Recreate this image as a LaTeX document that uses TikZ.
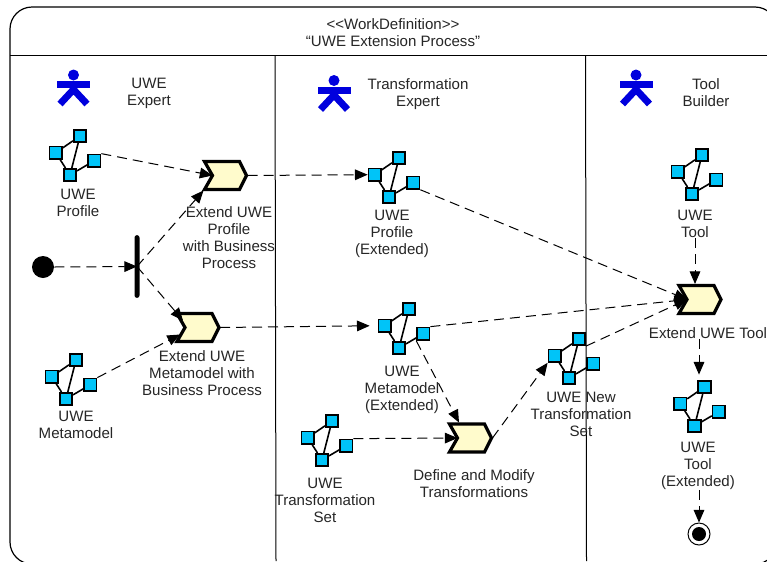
\documentclass[tikz,border=0pt]{standalone}
\usepackage{fontspec}
\setmainfont{Liberation Sans}
\usetikzlibrary{arrows.meta}
\definecolor{actorblue}{HTML}{0000DD}
\definecolor{wpblue}{HTML}{00C4F8}
\definecolor{taskyellow}{HTML}{FFFBCC}
\tikzset{
  txt/.style={font=\fontsize{11.3}{12.75}\selectfont,align=center,inner sep=0pt,text=black!85},
  flow/.style={draw=black,line width=0.75pt,dash pattern=on 7.5pt off 4.5pt,-{Triangle[length=9.5pt,width=8pt]}},
  wpbox/.style={draw=black,line width=1.2pt,fill=wpblue,minimum size=9.4pt,inner sep=0pt},
  startnode/.style={circle,fill=black,minimum size=16.5pt,inner sep=0pt},
  endnode/.style={circle,draw=black,line width=0.75pt,fill=white,minimum size=16.5pt,inner sep=0pt},
  enddot/.style={circle,fill=black,minimum size=10.5pt,inner sep=0pt},
  forkbar/.style={rectangle,fill=black,rounded corners=1.8pt,minimum width=3.75pt,minimum height=47pt,inner sep=0pt},
  wprod/.pic={
    \node[wpbox] (-n) at (5,-19) {};
    \node[wpbox] (-w) at (-19.3,-2.3) {};
    \node[wpbox] (-s) at (-5,20) {};
    \node[wpbox] (-e) at (19.3,5.7) {};
    \draw[line width=1.2pt] (-w) -- (-n) (-n) -- (-s) (-w) -- (-s) (-s) -- (-e);
    \node[wpbox] at (-n) {};
    \node[wpbox] at (-w) {};
    \node[wpbox] at (-s) {};
    \node[wpbox] at (-e) {};
  },
  wtask/.pic={
    \draw[line width=2.4pt,line join=miter,fill=taskyellow] (-21,-14) -- (14,-14) -- (21,0) -- (14,14) -- (-21,14) -- (-13,0) -- cycle;
    \coordinate (-tip) at (22,0);
    \coordinate (-notch) at (-13,0);
    \coordinate (-nw) at (-22,15);
    \coordinate (-a) at (-15,-7);
    \coordinate (-b) at (-18,7);
    \coordinate (-c) at (-11.5,-15.5);
    \coordinate (-top) at (-5,-15.5);
  },
  actor/.pic={
    \fill[actorblue] (0,-9.5) circle[radius=5.5];
    \fill[actorblue] (-16.5,-3.5) rectangle (16.5,3.5);
    \draw[actorblue,line width=5.2pt] (0,-3) -- (0,6) (-13.5,19.5) -- (0,5) -- (13.5,19.5);
  }
}
\begin{document}
\begin{tikzpicture}[x=0.75pt,y=-0.75pt]
\useasboundingbox (0,0) rectangle (767,561);
\clip (0,0) rectangle (767,561);
\fill[white] (0,0) rectangle (767,561);
\draw[line width=0.9pt,rounded corners=16.5pt] (10,7) rectangle (777,564);
\draw[line width=0.9pt] (10,55.5) -- (767,55.5);
\draw[line width=0.75pt] (275,55.5) -- (276,561);
\draw[line width=0.75pt] (585.5,55.5) -- (586.5,561);
\node[txt] (title) at (393,32.5) {<{}<WorkDefinition>{}>\\“UWE Extension Process”};
\pic at (73.5,84.5) {actor};
\pic at (334,90) {actor};
\pic at (636,84.5) {actor};
\node[txt] (expert) at (149,93) {UWE\\Expert};
\node[txt] (transexpert) at (418,94) {Transformation\\Expert};
\node[txt] (builder) at (706,93) {Tool\\Builder};
\pic (profile) at (75,155) {wprod};
\pic (metamodel) at (71,379) {wprod};
\pic (extprofile) at (394,177) {wprod};
\pic (extmetamodel) at (404,328) {wprod};
\pic (transset) at (327,440) {wprod};
\pic (newset) at (574,358) {wprod};
\pic (tool) at (697,174) {wprod};
\pic (exttool) at (699.5,406) {wprod};
\pic (taskprofile) at (225.5,175.5) {wtask};
\pic (taskmodel) at (198,327.5) {wtask};
\pic (taskdefine) at (470.5,438) {wtask};
\pic (tasktool) at (700,299.5) {wtask};
\node[txt] (lprofile) at (78,203) {UWE\\Profile};
\node[txt] (lmetamodel) at (76,424.5) {UWE\\Metamodel};
\node[txt] (lextprofile) at (392,234) {UWE\\Profile\\(Extended)};
\node[txt] (lextmetamodel) at (402,390) {UWE\\Metamodel\\(Extended)};
\node[txt] (ltransset) at (325,500) {UWE\\Transformation\\Set};
\node[txt] (lnewset) at (581,414) {UWE New\\Transformation\\Set};
\node[txt] (ltool) at (695,224) {UWE\\Tool};
\node[txt] (lexttool) at (698,466) {UWE\\Tool\\(Extended)};
\node[txt] (ltaskprofile) at (229,237.5) {Extend UWE\\Profile\\with Business\\Process};
\node[txt] (ltaskmodel) at (202,373) {Extend UWE\\Metamodel with\\Business Process};
\node[txt] (ltaskdefine) at (474,484) {Define and Modify\\Transformations};
\node[txt] (ltasktool) at (708,333) {Extend UWE Tool};
\node[startnode] (start) at (43,267) {};
\node[forkbar] (fork) at (137,266.5) {};
\node[endnode] (finish) at (699,534) {};
\node[enddot] (finishdot) at (699,534) {};
\draw[flow] (start.east) -- (fork.center);
\draw[flow] (fork.center) -- (taskprofile-nw);
\draw[flow] (fork.center) -- (taskmodel-a);
\draw[flow] (profile-e.north east) -- (taskprofile-notch);
\draw[flow] (metamodel-e.north east) -- (taskmodel-b);
\draw[flow] (taskprofile-tip) -- (extprofile-w.west);
\draw[flow,shorten >=6pt] (taskmodel-tip) -- (extmetamodel-w.west);
\draw[flow] (extprofile-e.south east) -- (tasktool-notch);
\draw[flow] (extmetamodel-e.north east) -- (tasktool-notch);
\draw[flow] (newset-n.south east) -- (tasktool-notch);
\draw[flow] (extmetamodel-e.south west) -- (taskdefine-c);
\draw[flow] (transset-e.north east) -- (taskdefine-notch);
\draw[flow] (taskdefine-tip) -- (newset-w.south west);
\draw[flow] (ltool.south) -- (tasktool-top);
\draw[flow,shorten >=4pt] (ltasktool.south -| finish.north) -- (exttool-n.north -| finish.north);
\draw[flow] (lexttool.south -| finish.north) -- (finish.north);
\end{tikzpicture}
\end{document}
